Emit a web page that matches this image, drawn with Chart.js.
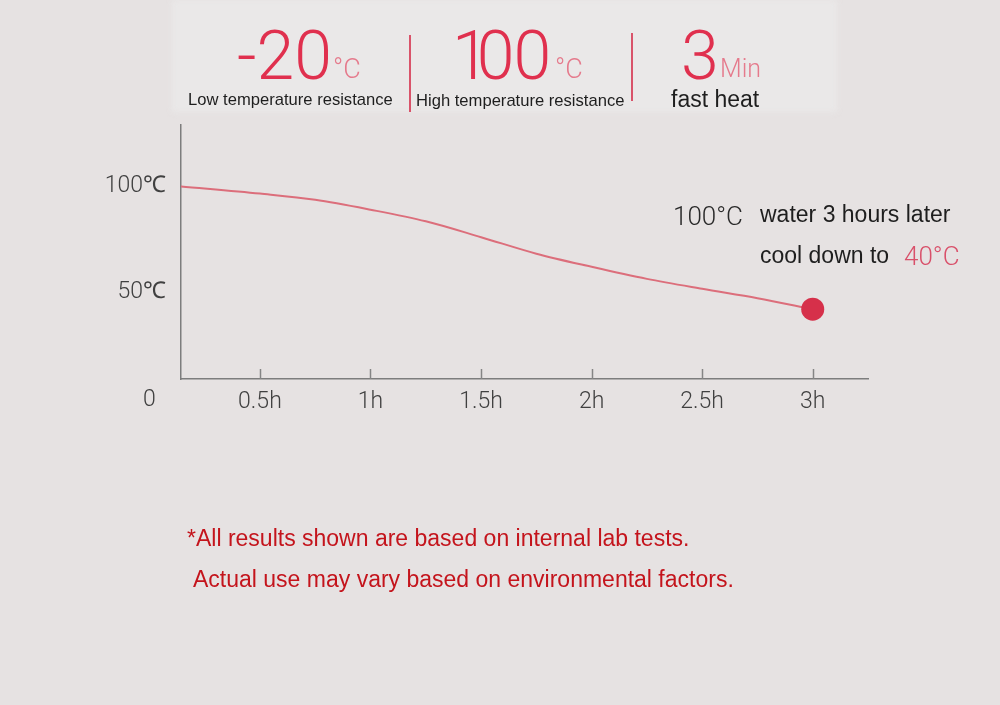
<!DOCTYPE html>
<html>
<head>
<meta charset="utf-8">
<script src="https://cdn.jsdelivr.net/npm/chart.js@4.4.1/dist/chart.umd.min.js"></script>
<style>
  html, body { margin:0; padding:0; background:#e6e2e2; }
  #wrap { position:relative; width:1000px; height:705px; overflow:hidden; background:#e6e2e2; }
  #band { position:absolute; left:172px; top:0; width:665px; height:112px; background:#eae8e8; filter:blur(3px); }
  canvas { position:absolute; left:0; top:0; }
  .t { position:absolute; white-space:nowrap; line-height:1; }
  .big { font-family:Roboto, "Open Sans", sans-serif; font-weight:300; color:#e0304e; font-size:68px; }
  .unit { font-family:Roboto, "Open Sans", sans-serif; font-weight:300; color:#e57a8c; font-size:27px; }
  .sub { font-family:"Liberation Sans", Arial, sans-serif; color:#1e1e1e; font-size:16.6px; }
  .sep { position:absolute; width:2px; background:#d9536a; }
  .ann { font-family:"Liberation Sans", Arial, sans-serif; color:#1e1e1e; font-size:23px; }
  .annbig { font-family:Roboto, "Open Sans", sans-serif; font-weight:300; font-size:26px; color:#2a2a2a; }
  .foot { font-family:"Liberation Sans", Arial, sans-serif; color:#c4141c; font-size:23px; }
</style>
</head>
<body>
<div id="wrap">
  <div id="band"></div>
  <canvas id="c" width="1000" height="705"></canvas>

  <div class="t big" style="left:237px; top:22px;">-20</div>
  <div class="t unit" style="left:333px; top:56px;">°C</div>
  <div class="sep" style="left:409px; top:35px; height:77px;"></div>
  <div class="t big" style="left:452px; top:22px;"><span style="margin-right:-13px">1</span><span style="letter-spacing:-1px">00</span></div>
  <div class="t unit" style="left:555px; top:56px;">°C</div>
  <div class="sep" style="left:631px; top:33px; height:68px;"></div>
  <div class="t big" style="left:681px; top:22px;">3</div>
  <div class="t unit" style="left:720px; top:56px; font-size:25px;">Min</div>

  <div class="t sub" style="left:188px; top:92px;">Low temperature resistance</div>
  <div class="t sub" style="left:416px; top:93px;">High temperature resistance</div>
  <div class="t sub" style="left:671px; top:88px; font-size:23px;">fast heat</div>

  <div class="t annbig" style="left:673px; top:203px;">100°C</div>
  <div class="t ann" style="left:760px; top:203px;">water 3 hours later</div>
  <div class="t ann" style="left:760px; top:244px;">cool down to</div>
  <div class="t annbig" style="left:904px; top:243px; color:#d9506a;">40°C</div>

  <div class="t foot" style="left:187px; top:527px;">*All results shown are based on internal lab tests.</div>
  <div class="t foot" style="left:193px; top:568px;">Actual use may vary based on environmental factors.</div>
</div>
<script>
const hours = [0.143, 0.5, 0.75, 1, 1.25, 1.5, 1.75, 2, 2.25, 2.5, 2.75, 3];
const temps = [100, 96.6, 93.7, 89, 83.5, 76, 68.2, 62, 56.3, 51.6, 47.2, 42];
const xTicks = [0.5, 1, 1.5, 2, 2.5, 3];
const xTickLabels = ['0.5h', '1h', '1.5h', '2h', '2.5h', '3h'];
const yTicks = [50, 100];
const yTickLabels = ['50℃', '100℃'];
const originLabel = '0';

const tickFont = { family: 'Roboto, "Open Sans", sans-serif', size: 23, weight: 300 };
const tickColor = '#404040';

const extras = {
  id: 'extras',
  afterDraw(chart) {
    const ctx = chart.ctx;
    const xs = chart.scales.x, ys = chart.scales.y;
    const bottom = chart.chartArea.bottom;
    ctx.save();
    ctx.strokeStyle = '#858585';
    ctx.lineWidth = 1.5;
    xTicks.forEach(v => {
      const px = Math.round(xs.getPixelForValue(v)) + 0.5;
      ctx.beginPath();
      ctx.moveTo(px, bottom);
      ctx.lineTo(px, bottom - 10);
      ctx.stroke();
    });
    ctx.fillStyle = tickColor;
    ctx.font = '300 23px Roboto, "Open Sans", sans-serif';
    ctx.textAlign = 'center';
    ctx.textBaseline = 'middle';
    ctx.fillText(originLabel, xs.getPixelForValue(0), ys.getPixelForValue(0) + 2);
    ctx.restore();
  }
};

new Chart(document.getElementById('c'), {
  type: 'line',
  data: {
    datasets: [{
      data: hours.map((h, i) => ({ x: h, y: temps[i] })),
      borderColor: '#dc6e7b',
      borderWidth: 2,
      cubicInterpolationMode: 'monotone',
      pointRadius: hours.map((h, i) => i === hours.length - 1 ? 11.5 : 0),
      pointBackgroundColor: '#d6304a',
      pointBorderWidth: 0,
      pointHoverRadius: 0
    }]
  },
  options: {
    responsive: false,
    devicePixelRatio: 1,
    animation: false,
    events: [],
    layout: { padding: { left: 0, top: 125, right: 132, bottom: 286 } },
    plugins: { legend: { display: false }, tooltip: { enabled: false } },
    scales: {
      x: {
        type: 'linear', min: 0.143, max: 3.25,
        afterBuildTicks: a => { a.ticks = xTicks.map(v => ({ value: v })); },
        afterFit: a => { a.height = 40; },
        ticks: {
          callback: v => xTickLabels[xTicks.indexOf(v)],
          font: tickFont, color: tickColor, padding: 9,
          maxRotation: 0, autoSkip: false
        },
        grid: { drawOnChartArea: false, drawTicks: false },
        border: { color: '#7d7d7d', width: 1.5 }
      },
      y: {
        min: 9, max: 129,
        afterBuildTicks: a => { a.ticks = yTicks.map(v => ({ value: v })); },
        afterFit: a => { a.width = 181; },
        ticks: {
          callback: v => yTickLabels[yTicks.indexOf(v)],
          font: tickFont, color: tickColor, padding: 15
        },
        grid: { drawOnChartArea: false, drawTicks: false },
        border: { color: '#7d7d7d', width: 1.5 }
      }
    }
  },
  plugins: [extras]
});
</script>
</body>
</html>
